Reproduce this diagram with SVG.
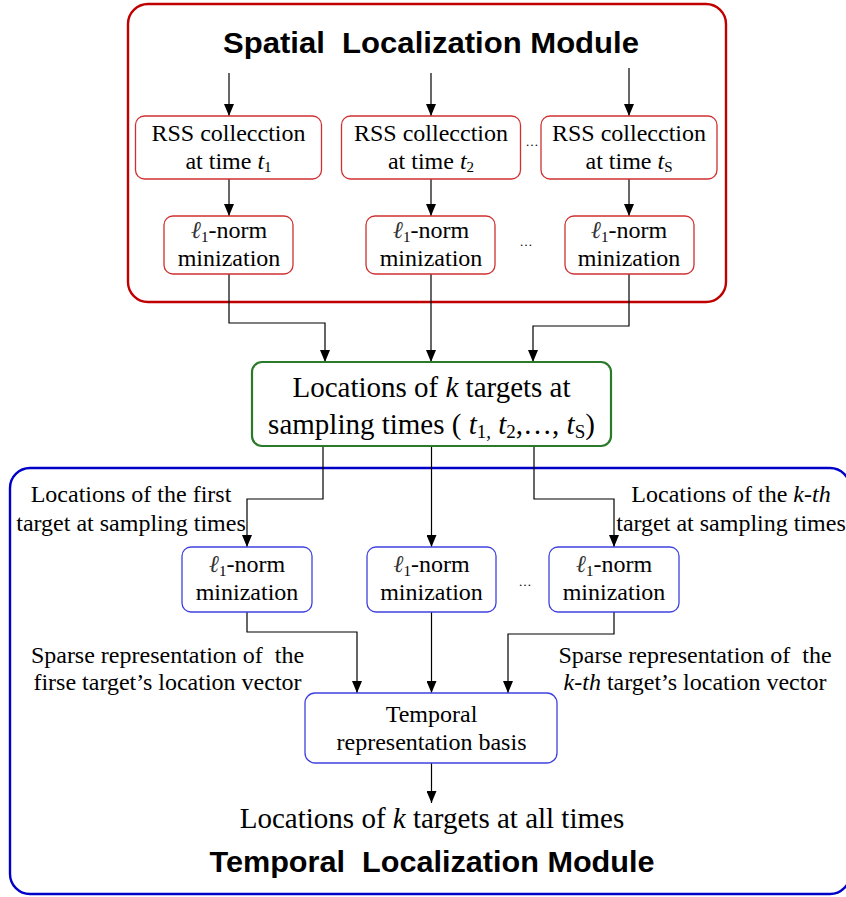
<svg xmlns="http://www.w3.org/2000/svg" width="846" height="897" viewBox="0 0 846 897">
  <defs>
    <marker id="arrow" viewBox="0 0 12 10" refX="12" refY="5" markerWidth="12" markerHeight="10" markerUnits="userSpaceOnUse" orient="auto">
      <path d="M0,0 L12,5 L0,10 z" fill="#000"/>
    </marker>
    <style>
      .sr { font-family: "Liberation Serif", "Times New Roman", serif; fill: #000; white-space: pre; }
      .f24 { font-size: 24px; }
      .f29 { font-size: 29px; }
      .title { font-family: "Liberation Sans", Arial, sans-serif; font-weight: bold; font-size: 29px; fill: #000; white-space: pre; }
      .dots { font-family: "Liberation Serif", serif; font-size: 13px; fill: #000; }
      .i { font-style: italic; }
      .ell { font-style: italic; fill: #333; }
      .module-red { fill: none; stroke: #c00000; stroke-width: 2.4; }
      .module-blue { fill: none; stroke: #0000c8; stroke-width: 2.4; }
      .box-red { fill: #fff; stroke: #d03030; stroke-width: 1.3; }
      .box-blue { fill: #fff; stroke: #4040e0; stroke-width: 1.3; }
      .box-green { fill: #fff; stroke: #2a7a2a; stroke-width: 2.2; }
      .wire { fill: none; stroke: #000; stroke-width: 1.2; marker-end: url(#arrow); }
    </style>
  </defs>

  <!-- module frames -->
  <g id="spatial-module">
    <rect class="module-red" x="128" y="4" width="598" height="298" rx="20"/>
    <text class="title" x="431" y="53" text-anchor="middle" textLength="416" lengthAdjust="spacingAndGlyphs" xml:space="preserve">Spatial  Localization Module</text>
  </g>
  <g id="temporal-module">
    <rect class="module-blue" x="10" y="468" width="840" height="426" rx="20"/>
    <text class="title" x="432" y="872" text-anchor="middle" textLength="445" lengthAdjust="spacingAndGlyphs" xml:space="preserve">Temporal  Localization Module</text>
  </g>

  <!-- connectors -->
  <g id="connectors">
    <path class="wire" d="M229,73 V116"/>
    <path class="wire" d="M431,73 V116"/>
    <path class="wire" d="M629,68 V116"/>
    <path class="wire" d="M229,179 V216"/>
    <path class="wire" d="M431,179 V216"/>
    <path class="wire" d="M629,179 V216"/>
    <path class="wire" d="M229,274 V323 H325 V362"/>
    <path class="wire" d="M431,274 V362"/>
    <path class="wire" d="M629,274 V326 H533 V362"/>
    <path class="wire" d="M323,446 V499 H247 V547"/>
    <path class="wire" d="M431.5,446 V547"/>
    <path class="wire" d="M534,446 V499 H614 V547"/>
    <path class="wire" d="M247,612 V632 H357 V693"/>
    <path class="wire" d="M431.5,612 V693"/>
    <path class="wire" d="M614,612 V634 H508 V693"/>
    <path class="wire" d="M431.5,763 V803"/>
  </g>

  <!-- RSS collection nodes -->
  <g id="rss-1">
    <rect class="box-red" x="135.5" y="116" width="186" height="63" rx="9"/>
    <text class="sr f24" x="228.5" y="141" text-anchor="middle">RSS collecction</text>
    <text class="sr f24" x="228.5" y="169" text-anchor="middle">at time <tspan class="i">t</tspan><tspan font-size="15" dy="3">1</tspan></text>
  </g>
  <g id="rss-2">
    <rect class="box-red" x="341.5" y="116" width="179" height="63" rx="9"/>
    <text class="sr f24" x="431" y="141" text-anchor="middle">RSS collecction</text>
    <text class="sr f24" x="431" y="169" text-anchor="middle">at time <tspan class="i">t</tspan><tspan font-size="15" dy="3">2</tspan></text>
  </g>
  <text class="dots" x="532" y="146" text-anchor="middle">…</text>
  <g id="rss-s">
    <rect class="box-red" x="541" y="116" width="176" height="63" rx="9"/>
    <text class="sr f24" x="629" y="141" text-anchor="middle">RSS collecction</text>
    <text class="sr f24" x="629" y="169" text-anchor="middle">at time <tspan class="i">t</tspan><tspan font-size="15" dy="3">S</tspan></text>
  </g>

  <!-- spatial l1-norm nodes -->
  <g id="spatial-l1-1">
    <rect class="box-red" x="164" y="216" width="129" height="58" rx="9"/>
    <text class="sr f24" x="229" y="238" text-anchor="middle"><tspan class="ell">ℓ</tspan><tspan font-size="15" dy="4">1</tspan><tspan dy="-4">-norm</tspan></text>
    <text class="sr f24" x="229" y="266" text-anchor="middle">minization</text>
  </g>
  <g id="spatial-l1-2">
    <rect class="box-red" x="366" y="216" width="129" height="58" rx="9"/>
    <text class="sr f24" x="431" y="238" text-anchor="middle"><tspan class="ell">ℓ</tspan><tspan font-size="15" dy="4">1</tspan><tspan dy="-4">-norm</tspan></text>
    <text class="sr f24" x="431" y="266" text-anchor="middle">minization</text>
  </g>
  <text class="dots" x="526" y="246" text-anchor="middle">…</text>
  <g id="spatial-l1-s">
    <rect class="box-red" x="565" y="216" width="129" height="58" rx="9"/>
    <text class="sr f24" x="629" y="238" text-anchor="middle"><tspan class="ell">ℓ</tspan><tspan font-size="15" dy="4">1</tspan><tspan dy="-4">-norm</tspan></text>
    <text class="sr f24" x="629" y="266" text-anchor="middle">minization</text>
  </g>

  <!-- sampled locations -->
  <g id="sampled-locations">
    <rect class="box-green" x="252" y="362" width="359" height="84" rx="10"/>
    <text class="sr f29" x="431.5" y="397" text-anchor="middle">Locations of <tspan class="i">k</tspan> targets at</text>
    <text class="sr f29" x="431.5" y="434" text-anchor="middle" xml:space="preserve">sampling times ( <tspan class="i">t</tspan><tspan font-size="19" dy="4">1,</tspan><tspan dy="-4"> </tspan><tspan class="i">t</tspan><tspan font-size="19" dy="4">2</tspan><tspan dy="-4">,…, </tspan><tspan class="i">t</tspan><tspan font-size="19" dy="4">S</tspan><tspan dy="-4">)</tspan></text>
  </g>

  <!-- connector labels, upper -->
  <g id="label-first-target">
    <text class="sr f24" x="131" y="502" text-anchor="middle">Locations of the first</text>
    <text class="sr f24" x="131" y="531" text-anchor="middle">target at sampling times</text>
  </g>
  <g id="label-kth-target">
    <text class="sr f24" x="731" y="502" text-anchor="middle">Locations of the <tspan class="i">k-th</tspan></text>
    <text class="sr f24" x="731" y="531" text-anchor="middle">target at sampling times</text>
  </g>

  <!-- temporal l1-norm nodes -->
  <g id="temporal-l1-1">
    <rect class="box-blue" x="182" y="547" width="130" height="65" rx="9"/>
    <text class="sr f24" x="247" y="572" text-anchor="middle"><tspan class="ell">ℓ</tspan><tspan font-size="15" dy="4">1</tspan><tspan dy="-4">-norm</tspan></text>
    <text class="sr f24" x="247" y="600" text-anchor="middle">minization</text>
  </g>
  <g id="temporal-l1-2">
    <rect class="box-blue" x="367" y="547" width="129" height="65" rx="9"/>
    <text class="sr f24" x="431.5" y="572" text-anchor="middle"><tspan class="ell">ℓ</tspan><tspan font-size="15" dy="4">1</tspan><tspan dy="-4">-norm</tspan></text>
    <text class="sr f24" x="431.5" y="600" text-anchor="middle">minization</text>
  </g>
  <text class="dots" x="525" y="586" text-anchor="middle">…</text>
  <g id="temporal-l1-k">
    <rect class="box-blue" x="549" y="547" width="130" height="65" rx="9"/>
    <text class="sr f24" x="614" y="572" text-anchor="middle"><tspan class="ell">ℓ</tspan><tspan font-size="15" dy="4">1</tspan><tspan dy="-4">-norm</tspan></text>
    <text class="sr f24" x="614" y="600" text-anchor="middle">minization</text>
  </g>

  <!-- connector labels, lower -->
  <g id="label-sparse-first">
    <text class="sr f24" x="167.5" y="663" text-anchor="middle" xml:space="preserve">Sparse representation of  the</text>
    <text class="sr f24" x="167.5" y="690" text-anchor="middle">firse target’s location vector</text>
  </g>
  <g id="label-sparse-kth">
    <text class="sr f24" x="695" y="663" text-anchor="middle" xml:space="preserve">Sparse representation of  the</text>
    <text class="sr f24" x="695" y="690" text-anchor="middle"><tspan class="i">k-th</tspan> target’s location vector</text>
  </g>

  <!-- temporal basis -->
  <g id="temporal-basis">
    <rect class="box-blue" x="305" y="693" width="252" height="70" rx="10"/>
    <text class="sr f24" x="431.5" y="722" text-anchor="middle">Temporal</text>
    <text class="sr f24" x="431.5" y="750" text-anchor="middle">representation basis</text>
  </g>

  <!-- final output -->
  <g id="all-time-locations">
    <text class="sr f29" x="432" y="828" text-anchor="middle">Locations of <tspan class="i">k</tspan> targets at all times</text>
  </g>
</svg>
